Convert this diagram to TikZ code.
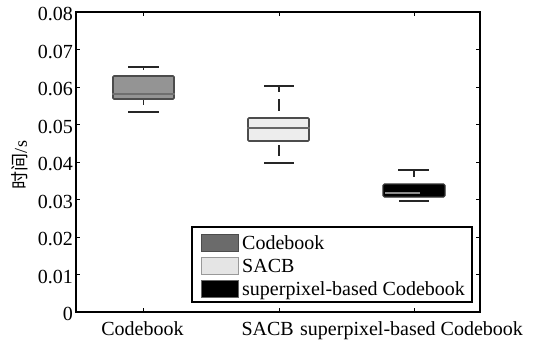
\documentclass[tikz,border=0pt]{standalone}
\usepackage{fontspec}
\setmainfont{Liberation Serif}
\newfontfamily\cjk{Noto Sans CJK SC}
\begin{document}
\begin{tikzpicture}[x=1pt,y=-1pt,
  lbl/.style={font=\fontsize{20}{23}\selectfont, inner sep=0pt},
  axisline/.style={line width=1.8pt, black},
  tickline/.style={line width=0.8pt, black},
  boxline/.style={line width=1.6pt, draw=black!70},
  whisk/.style={line width=1.8pt, black!85},
  legbox/.style={line width=1.8pt, draw=black, fill=white}]
\useasboundingbox (0,0) rectangle (534,350);
% axes frame
\draw[axisline] (76,12) rectangle (480,312);
% y ticks and labels
\foreach \k/\t in {0/0,1/0.01,2/0.02,3/0.03,4/0.04,5/0.05,6/0.06,7/0.07,8/0.08}{
  \pgfmathsetmacro{\yy}{312-37.5*\k}
  \draw[tickline] (76,\yy) -- (80,\yy);
  \draw[tickline] (480,\yy) -- (476,\yy);
  \node[lbl, anchor=base east] (yl\k) at (73,\yy+8.7) {\t};
}
% x ticks
\foreach \xx in {143.5,279,414}{
  \draw[tickline] (\xx,312) -- (\xx,308);
  \draw[tickline] (\xx,12) -- (\xx,16);
}
% x labels
\node[lbl, anchor=base] (xl1) at (142.5,335) {Codebook};
\node[lbl, anchor=base east] (xl2) at (294,335) {SACB};
\node[lbl, anchor=base west] (xl3) at (300,335) {superpixel-based Codebook};
% y label
\node[font=\fontsize{18}{20}\selectfont, rotate=90, inner sep=0pt] (ylab) at (20,165) {{\cjk 时间}/s};
% Codebook box
\draw[whisk] (128,67) -- (159,67);
\draw[whisk] (143.5,67) -- (143.5,70);
\draw[whisk] (128,112) -- (159,112);
\draw[whisk] (143.5,99) -- (143.5,105);
\node[boxline, fill=black!42, minimum width=61pt, minimum height=23pt, inner sep=0pt, rounded corners=1pt] (b1) at (143.5,87.5) {};
\draw[line width=1.4pt, black!57] (b1.west |- 0,94) -- (b1.east |- 0,94);
% SACB box
\draw[whisk] (264,86) -- (294,86);
\draw[whisk] (279,86) -- (279,92);
\draw[whisk] (279,99) -- (279,111);
\draw[whisk] (279,145) -- (279,156);
\draw[whisk] (264,163) -- (294,163);
\node[boxline, fill=black!7, minimum width=61pt, minimum height=23pt, inner sep=0pt, rounded corners=1pt] (b2) at (278.5,129.5) {};
\draw[line width=1.6pt, black!60] (b2.west |- 0,128) -- (b2.east |- 0,128);
% superpixel box
\draw[whisk] (398,170) -- (429,170);
\draw[whisk] (414,170) -- (414,177);
\draw[whisk] (399,201) -- (429,201);
\node[draw=black!80, line width=1.2pt, fill=black, minimum width=62pt, minimum height=13pt, inner sep=0pt, rounded corners=1.5pt] (b3) at (414,190.5) {};
\draw[line width=1.2pt, black!45] (385,193) -- (420,193);
% legend
\node[legbox, minimum width=280pt, minimum height=75pt, inner sep=0pt] (leg) at (332,264.5) {};
\node[draw=black!70, line width=1pt, fill=black!58, minimum width=37pt, minimum height=17pt, inner sep=0pt] (p1) at (219.5,242.5) {};
\node[draw=black!40, line width=1pt, fill=black!10, minimum width=37pt, minimum height=17pt, inner sep=0pt] (p2) at (219.5,265.5) {};
\node[draw=black!60, line width=1pt, fill=black, minimum width=37pt, minimum height=17pt, inner sep=0pt] (p3) at (219.5,289) {};
\node[lbl, anchor=base west] (t1) at (242,249.5) {Codebook};
\node[lbl, anchor=base west] (t2) at (242,272.5) {SACB};
\node[lbl, anchor=base west] (t3) at (242,295.5) {superpixel-based Codebook};
\end{tikzpicture}
\end{document}
